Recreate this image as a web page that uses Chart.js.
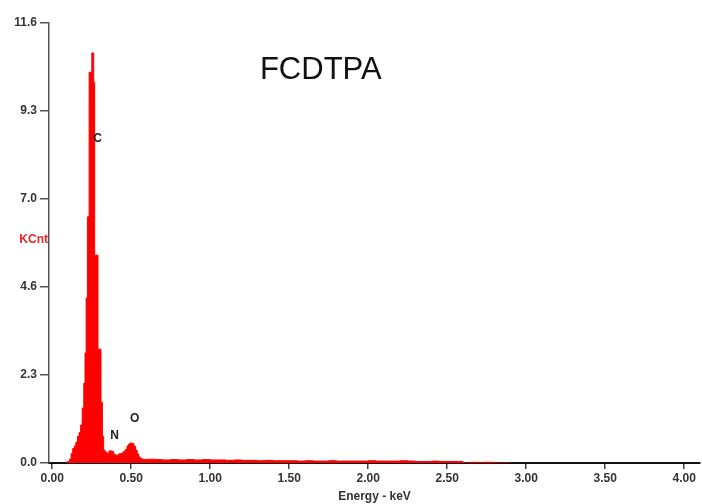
<!DOCTYPE html>
<html>
<head>
<meta charset="utf-8">
<script src="https://cdn.jsdelivr.net/npm/chart.js@4/dist/chart.umd.min.js"></script>
<style>
  html, body { margin: 0; padding: 0; background: #ffffff; }
  #wrap { width: 702px; height: 504px; position: relative; }
</style>
</head>
<body>
<div id="wrap"><canvas id="eds" width="702" height="504"></canvas></div>
<script>
// EDS spectrum of FCDTPA: channel start energies (keV) and counts (KCnt)
const energyKeV = [
  0.09, 0.11, 0.12, 0.13, 0.14, 0.15, 0.16, 0.17, 0.18, 0.19, 0.20, 0.208, 0.215, 0.223, 0.234,
  0.251, 0.263, 0.269, 0.290, 0.309, 0.318, 0.326, 0.334, 0.345, 0.36, 0.375, 0.39, 0.405, 0.42,
  0.435, 0.45, 0.462, 0.474, 0.484, 0.494, 0.504, 0.518, 0.528, 0.538, 0.548, 0.558, 0.568, 0.585,
  0.60, 0.65, 0.70, 0.75, 0.80, 0.85, 0.90, 0.95, 1.00, 1.05, 1.10, 1.15, 1.20, 1.25, 1.30,
  1.35, 1.40, 1.45, 1.50, 1.55, 1.60, 1.65, 1.70, 1.75, 1.80, 1.85, 1.90, 1.95, 2.00, 2.05,
  2.10, 2.15, 2.20, 2.25, 2.30, 2.35, 2.40, 2.45, 2.50, 2.55, 2.60, 2.65, 2.70, 2.72, 2.80,
  2.82, 2.90
];
const countsKCnt = [
  0.00, 0.03, 0.10, 0.25, 0.38, 0.45, 0.55, 0.70, 0.80, 1.00, 1.45, 2.10, 2.90, 4.35, 6.49,
  10.30, 10.81, 10.04, 5.48, 3.00, 1.60, 0.70, 0.34, 0.29, 0.26, 0.32, 0.30, 0.22, 0.20,
  0.24, 0.26, 0.30, 0.36, 0.45, 0.50, 0.53, 0.51, 0.44, 0.34, 0.24, 0.16, 0.12, 0.10,
  0.09, 0.10, 0.09, 0.08, 0.09, 0.08, 0.09, 0.08, 0.09, 0.08, 0.08, 0.07, 0.08, 0.07, 0.07,
  0.06, 0.07, 0.06, 0.06, 0.06, 0.05, 0.06, 0.05, 0.05, 0.06, 0.05, 0.05, 0.05, 0.05, 0.06,
  0.05, 0.05, 0.05, 0.06, 0.05, 0.04, 0.04, 0.05, 0.04, 0.04, 0.04, 0.00, 0.02, 0.00, 0.02,
  0.00, 0.00
];

// Axis ticks
const yTickValues = [0, 2.32, 4.64, 6.96, 9.28, 11.6];
const xTickValues = [0, 0.5, 1.0, 1.5, 2.0, 2.5, 3.0, 3.5, 4.0];

// Element lines marked on the spectrum
const peakNames = ['C', 'N', 'O'];
const peakKeV = [0.288, 0.395, 0.522];
const peakLabelKCnt = [8.54, 0.71, 1.16];

const chartTitle = 'FCDTPA';
const yUnit = 'KCnt';
const xTitle = 'Energy - keV';

const FONT = 'Arial, "Liberation Sans", sans-serif';

const spectrumPoints = energyKeV.map((e, i) => ({ x: e, y: countsKCnt[i] }));

const annotations = {
  id: 'annotations',
  afterDatasetsDraw(chart) {
    const { ctx, chartArea } = chart;
    const xs = chart.scales.x, ys = chart.scales.y;
    ctx.save();
    ctx.fillStyle = '#222222';
    ctx.font = 'bold 12px ' + FONT;
    ctx.textAlign = 'center';
    ctx.textBaseline = 'middle';
    peakNames.forEach((n, i) => {
      ctx.fillText(n, xs.getPixelForValue(peakKeV[i]), ys.getPixelForValue(peakLabelKCnt[i]));
    });
    // Unit label beside the count axis
    ctx.fillStyle = '#e8262b';
    ctx.textAlign = 'right';
    ctx.fillText(yUnit, chartArea.left - 1, ys.getPixelForValue(5.9));
    // Sample name
    ctx.fillStyle = '#111111';
    ctx.font = '31px ' + FONT;
    ctx.textAlign = 'center';
    ctx.fillText(chartTitle, xs.getPixelForValue(1.7), ys.getPixelForValue(10.35));
    ctx.restore();
  }
};

new Chart(document.getElementById('eds'), {
  type: 'line',
  data: {
    datasets: [{
      data: spectrumPoints,
      stepped: 'after',
      fill: 'origin',
      backgroundColor: '#ff0000',
      borderColor: '#ff0000',
      borderWidth: 1,
      pointRadius: 0,
      pointHoverRadius: 0
    }]
  },
  options: {
    responsive: false,
    animation: false,
    events: [],
    layout: { padding: { top: 23, right: 2, left: 0, bottom: 0 } },
    plugins: { legend: { display: false }, tooltip: { enabled: false }, title: { display: false } },
    scales: {
      x: {
        type: 'linear',
        min: -0.02,
        max: 4.10,
        z: 1,
        afterBuildTicks: (s) => { s.ticks = xTickValues.map(v => ({ value: v })); },
        afterFit: (s) => { s.height = 41; },
        ticks: {
          autoSkip: false,
          maxRotation: 0,
          padding: 2,
          color: '#333333',
          font: { family: FONT, size: 12, weight: 'bold' },
          callback: (v) => Number(v).toFixed(2)
        },
        grid: { drawOnChartArea: false, drawTicks: true, tickLength: 6, color: '#444444', lineWidth: 1.5 },
        border: { display: true, color: '#111111', width: 2 },
        title: {
          display: true,
          text: xTitle,
          color: '#333333',
          padding: { top: -2, bottom: 0 },
          font: { family: FONT, size: 12, weight: 'bold' }
        }
      },
      y: {
        type: 'linear',
        min: 0,
        max: 11.6,
        afterBuildTicks: (s) => { s.ticks = yTickValues.map(v => ({ value: v })); },
        afterFit: (s) => { s.width = 49; },
        ticks: {
          autoSkip: false,
          padding: 3,
          color: '#333333',
          font: { family: FONT, size: 12, weight: 'bold' },
          callback: (v) => Number(v).toFixed(1)
        },
        grid: { drawOnChartArea: false, drawTicks: true, tickLength: 9, color: '#555555', lineWidth: 1.5 },
        border: { display: true, color: '#555555', width: 1.5 }
      }
    }
  },
  plugins: [annotations]
});
</script>
</body>
</html>
